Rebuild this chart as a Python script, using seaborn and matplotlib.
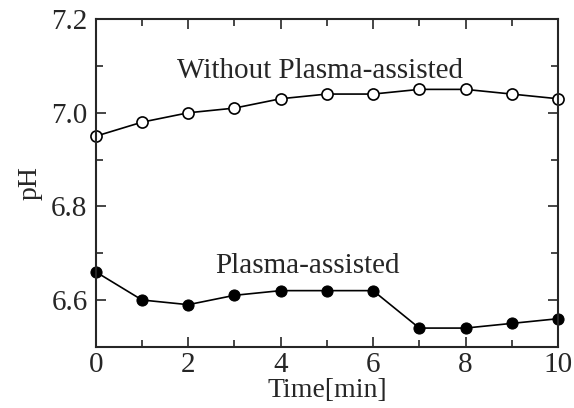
import numpy as np
import pandas as pd
import seaborn as sns
import matplotlib.pyplot as plt
from matplotlib.ticker import MultipleLocator

time_min = [0, 1, 2, 3, 4, 5, 6, 7, 8, 9, 10]
ph_without = [6.95, 6.98, 7.00, 7.01, 7.03, 7.04, 7.04, 7.05, 7.05, 7.04, 7.03]
ph_plasma = [6.66, 6.60, 6.59, 6.61, 6.62, 6.62, 6.62, 6.54, 6.54, 6.55, 6.56]


def main():
    sns.set_style('ticks')
    plt.rcParams['font.family'] = ['Liberation Serif', 'DejaVu Serif']

    df = pd.DataFrame({'t': time_min * 2,
                       'ph': ph_without + ph_plasma,
                       'grp': ['without'] * len(time_min) + ['plasma'] * len(time_min)})

    fig, ax = plt.subplots(figsize=(5.74, 4.08), dpi=100)
    fig.subplots_adjust(left=0.167, right=0.972, top=0.953, bottom=0.15)

    sns.lineplot(data=df[df.grp == 'without'], x='t', y='ph', ax=ax, color='black',
                 lw=1.2, marker='o', markersize=8, markerfacecolor='white',
                 markeredgecolor='black', markeredgewidth=1.2, clip_on=False)
    sns.lineplot(data=df[df.grp == 'plasma'], x='t', y='ph', ax=ax, color='black',
                 lw=1.2, marker='o', markersize=8, markerfacecolor='black',
                 markeredgecolor='black', clip_on=False)

    ax.set_xlim(0, 10)
    ax.set_ylim(6.5, 7.2)
    ax.xaxis.set_major_locator(MultipleLocator(2))
    ax.xaxis.set_minor_locator(MultipleLocator(1))
    ax.yaxis.set_minor_locator(MultipleLocator(0.1))
    ax.set_yticks([6.6, 6.8, 7.0, 7.2])
    ax.set_yticklabels(['6.6', '6.8', '7.0', '7.2'])
    ax.tick_params(which='both', direction='in', top=True, right=True,
                   width=1.2, labelsize=21, pad=6)
    ax.tick_params(axis='x', pad=4)
    ax.tick_params(which='major', length=7)
    ax.tick_params(which='minor', length=5)
    for s in ax.spines.values():
        s.set_linewidth(1.5)
        s.set_visible(True)

    ax.set_xlabel('Time[min]', fontsize=20, labelpad=0)
    ax.set_ylabel('pH', fontsize=20, labelpad=6)

    ax.text(4.85, 7.09, 'Without Plasma-assisted', fontsize=21, ha='center', va='center')
    ax.text(4.57, 6.672, 'Plasma-assisted', fontsize=21, ha='center', va='center')

    plt.savefig('out.png', dpi=100)


if __name__ == '__main__':
    main()
